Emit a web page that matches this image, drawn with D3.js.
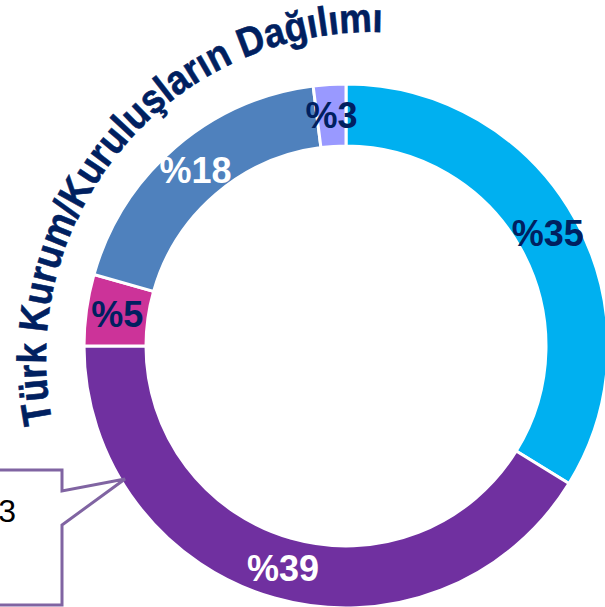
<!DOCTYPE html>
<html>
<head>
<meta charset="utf-8">
<script src="https://cdn.jsdelivr.net/npm/d3@7"></script>
<style>
  html, body { margin: 0; padding: 0; background: #fff; overflow: hidden; }
  svg { display: block; }
</style>
</head>
<body>
<div id="chart"></div>
<script>
(function () {
  'use strict';

  // slice shares (clockwise from 12 o'clock)
  var values = [33.8, 41.2, 4.4, 18.6, 2.0];
  var labels = ['%35', '%39', '%5', '%18', '%3'];
  var colors = ['#00B0F0', '#7030A0', '#CC3399', '#4F81BD', '#9999FF'];
  var labelColors = ['#002060', '#ffffff', '#002060', '#ffffff', '#002060'];
  var title = 'Türk Kurum/Kuruluşların Dağılımı';
  var calloutText = '3';

  var W = 605, H = 607;
  var cx = 346, cy = 346;
  var rOuter = 262, rInner = 200;

  var svg = d3.select('#chart').append('svg')
    .attr('width', W).attr('height', H);

  var g = svg.append('g').attr('transform', 'translate(' + cx + ',' + cy + ')');

  var pie = d3.pie().sort(null).value(function (d) { return d; });
  var arcs = pie(values);

  var arc = d3.arc().innerRadius(rInner).outerRadius(rOuter);

  g.selectAll('.slice')
    .data(arcs)
    .enter().append('path')
    .attr('class', 'slice')
    .attr('d', arc)
    .attr('fill', function (d, i) { return colors[i]; })
    .attr('stroke', '#fff')
    .attr('stroke-width', 3);

  g.selectAll('.lbl')
    .data(arcs)
    .enter().append('text')
    .attr('class', 'lbl')
    .attr('transform', function (d) { return 'translate(' + arc.centroid(d) + ')'; })
    .attr('text-anchor', 'middle')
    .attr('dominant-baseline', 'central')
    .style('font-family', '"Liberation Sans", Arial, sans-serif')
    .style('font-weight', 'bold')
    .style('font-size', '36px')
    .attr('fill', function (d, i) { return labelColors[i]; })
    .text(function (d, i) { return labels[i]; });

  // curved title along a circular arc
  var tcx = 372, tcy = 358, tr = 326;
  var a0 = 168.6 * Math.PI / 180 - 2 * Math.PI, a1 = -87.5 * Math.PI / 180;
  var tp = d3.path();
  tp.moveTo(tcx + tr * Math.cos(a0), tcy + tr * Math.sin(a0));
  tp.arc(tcx, tcy, tr, a0, a1, false);
  svg.append('defs').append('path')
    .attr('id', 'titlePath')
    .attr('d', tp.toString());

  svg.append('text')
    .style('font-family', '"Liberation Sans", Arial, sans-serif')
    .style('font-weight', 'bold')
    .style('font-size', '41px')
    .attr('fill', '#002060')
    .attr('stroke', '#002060')
    .attr('stroke-width', 0.6)
    .append('textPath')
    .attr('href', '#titlePath')
    .attr('textLength', tr * (a1 - a0) - 4)
    .attr('lengthAdjust', 'spacingAndGlyphs')
    .text(title);

  // callout box on the left edge
  var callout = d3.path();
  callout.moveTo(-5, 470);
  callout.lineTo(62, 470);
  callout.lineTo(62, 491);
  callout.lineTo(125, 479);
  callout.lineTo(62, 525);
  callout.lineTo(62, 605);
  callout.lineTo(-5, 605);
  callout.closePath();
  svg.append('path')
    .attr('d', callout.toString())
    .attr('fill', '#fff')
    .attr('stroke', '#8064A2')
    .attr('stroke-width', 3)
    .attr('stroke-linejoin', 'miter');

  svg.append('text')
    .attr('x', 16).attr('y', 522)
    .attr('text-anchor', 'end')
    .style('font-family', '"Liberation Sans", Arial, sans-serif')
    .style('font-size', '32px')
    .attr('fill', '#000')
    .text(calloutText);
})();
</script>
</body>
</html>
